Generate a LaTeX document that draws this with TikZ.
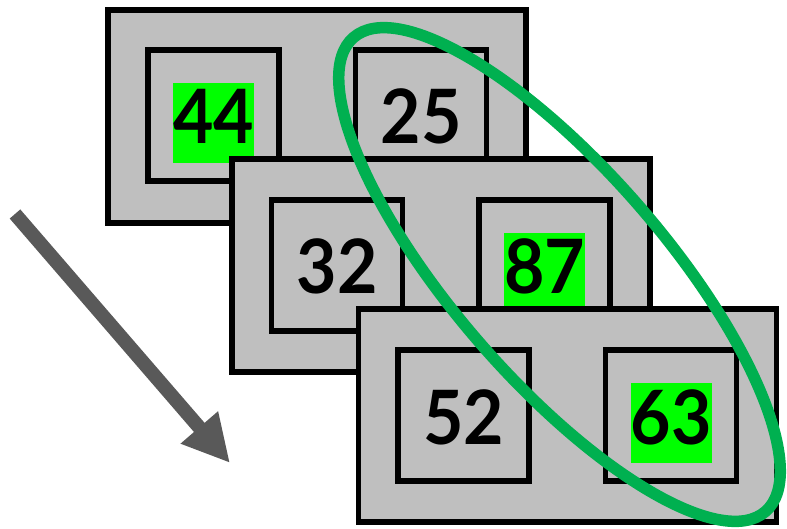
\documentclass[tikz,border=0pt]{standalone}
\usepackage{fontspec}
\setmainfont{Poppins}
\newfontfamily\numfont{Lato}[FakeStretch=0.93]
\usetikzlibrary{arrows.meta}
\definecolor{boxgray}{RGB}{191,191,191}
\definecolor{hlgreen}{RGB}{0,255,0}
\definecolor{ringgreen}{RGB}{0,176,80}
\definecolor{arrowgray}{RGB}{89,89,89}
\begin{document}
\begin{tikzpicture}[x=1pt,y=1pt,
 outerbox/.style={draw=black,fill=boxgray,line width=5.5pt,inner sep=0pt,minimum width=418pt,minimum height=213pt},
 cell/.style={draw=black,fill=boxgray,line width=5.5pt,inner sep=0pt,minimum size=131pt},
 num/.style={font=\numfont\fontsize{75}{80}\selectfont\bfseries,text height=61pt,text depth=19pt,inner sep=0pt,minimum width=81pt},
 hl/.style={num,fill=hlgreen}]
\useasboundingbox (0,0) rectangle (787,-529);
% group 1
\node[outerbox] (g1) at (317,-116.5) {};
\node[cell] (c11) at (213.5,-115.5) {};
\node[cell] (c12) at (421,-115.5) {};
\node[hl] (t44) at (213.5,-123) {44};
\node[num] (t25) at (421,-123) {25};
% group 2
\node[outerbox] (g2) at (441,-265.5) {};
\node[cell] (c21) at (337,-265.5) {};
\node[cell] (c22) at (544.5,-265.5) {};
\node[num] (t32) at (337,-273) {32};
\node[hl] (t87) at (544.5,-273) {87};
% group 3
\node[outerbox] (g3) at (567.5,-415.5) {};
\node[cell] (c31) at (463.5,-415.5) {};
\node[cell] (c32) at (671,-415.5) {};
\node[num] (t52) at (463.5,-423) {52};
\node[hl] (t63) at (671,-423) {63};
% ring
\draw[ringgreen,line width=11.5pt,rotate around={-49:(559.5,-274.5)}] (559.5,-274.5) ellipse [x radius=314, y radius=105];
% arrow
\coordinate (a0) at (15,-214);
\coordinate (a1) at (230,-463);
\draw[arrowgray,line width=14pt,-{Triangle[length=47pt,width=46pt]}] (a0) -- (a1);
\end{tikzpicture}
\end{document}
